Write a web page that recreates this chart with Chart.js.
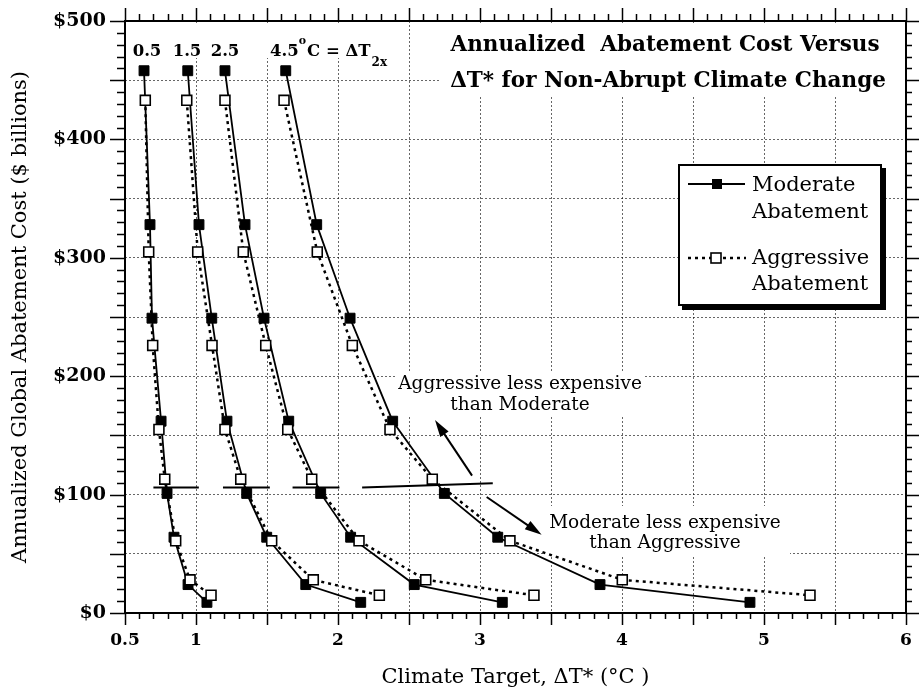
<!DOCTYPE html>
<html>
<head>
<meta charset="utf-8">
<script src="https://cdn.jsdelivr.net/npm/chart.js@4"></script>
<style>
  html, body { margin: 0; padding: 0; background: #fff; }
</style>
</head>
<body>
<canvas id="myChart" width="919" height="693"></canvas>
<script>
// annual cost levels ($ billions), same scenarios for every sensitivity
const costModerate = [458, 328, 249, 162, 101, 64, 24, 9];
const costAggressive = [433, 305, 226, 155, 113, 61, 28, 15];

// climate target dT* (degC) reached, one pair per sensitivity dT2x
const modT05 = [0.634, 0.676, 0.690, 0.754, 0.796, 0.845, 0.944, 1.077];
const aggT05 = [0.643, 0.667, 0.695, 0.739, 0.780, 0.857, 0.958, 1.106];
const modT15 = [0.942, 1.021, 1.111, 1.218, 1.357, 1.498, 1.773, 2.160];
const aggT15 = [0.935, 1.012, 1.113, 1.204, 1.315, 1.533, 1.826, 2.291];
const modT25 = [1.204, 1.345, 1.479, 1.653, 1.878, 2.089, 2.537, 3.157];
const aggT25 = [1.204, 1.333, 1.491, 1.646, 1.815, 2.148, 2.618, 3.380];
const modT45 = [1.632, 1.850, 2.085, 2.385, 2.749, 3.125, 3.845, 4.901];
const aggT45 = [1.620, 1.854, 2.101, 2.366, 2.664, 3.211, 4.002, 5.324];

// crossover bars
const crossT05 = [0.70, 1.02];
const crossT15 = [1.19, 1.52];
const crossT25 = [1.68, 2.01];
const crossT45 = [2.17, 3.09];
const crossCost = [106, 106];
const crossCost45 = [106, 109.5];

// arrows, [from, to] as [dT*, cost]
const arrowUp = [[2.944, 116], [2.683, 163]];
const arrowDown = [[3.047, 98], [3.434, 66]];

const xLabelled = [0.5, 1, 2, 3, 4, 5, 6];
const yLabelled = [0, 100, 200, 300, 400, 500];

const FONT = '"DejaVu Serif", serif';
Chart.defaults.font.family = FONT;
Chart.defaults.color = '#000';

function pts(xs, ys){
    return xs.map((x, i) => ({x: x, y: ys[i]}));
}

const datasets = [];
[[modT05, aggT05], [modT15, aggT15], [modT25, aggT25], [modT45, aggT45]].forEach(pair => {
    datasets.push({
        label: 'Aggressive Abatement',
        data: pts(pair[1], costAggressive),
        showLine: true,
        borderColor: '#000',
        borderWidth: 2.5,
        borderDash: [3, 4],
        pointStyle: 'rect',
        pointRadius: 7,
        pointBackgroundColor: '#fff',
        pointBorderColor: '#000',
        pointBorderWidth: 1.6,
        order: 1
    });
    datasets.push({
        label: 'Moderate Abatement',
        data: pts(pair[0], costModerate),
        showLine: true,
        borderColor: '#000',
        borderWidth: 1.8,
        pointStyle: 'rect',
        pointRadius: 7,
        pointBackgroundColor: '#000',
        pointBorderColor: '#000',
        pointBorderWidth: 1,
        order: 2
    });
});
[[crossT05, crossCost], [crossT15, crossCost], [crossT25, crossCost], [crossT45, crossCost45]].forEach(pair => {
    datasets.push({
        label: 'crossover',
        data: pts(pair[0], pair[1]),
        showLine: true,
        borderColor: '#000',
        borderWidth: 2,
        pointRadius: 0,
        order: 0
    });
});

function drawArrow(ctx, xs, ys, seg){
    const x1 = xs.getPixelForValue(seg[0][0]), y1 = ys.getPixelForValue(seg[0][1]);
    const x2 = xs.getPixelForValue(seg[1][0]), y2 = ys.getPixelForValue(seg[1][1]);
    const a = Math.atan2(y2 - y1, x2 - x1);
    const c = Math.cos(a), s = Math.sin(a);
    ctx.beginPath();
    ctx.moveTo(x1, y1);
    ctx.lineTo(x2 - 10 * c, y2 - 10 * s);
    ctx.stroke();
    ctx.beginPath();
    ctx.moveTo(x2, y2);
    ctx.lineTo(x2 - 17 * c + 5 * s, y2 - 17 * s - 5 * c);
    ctx.lineTo(x2 - 17 * c - 5 * s, y2 - 17 * s + 5 * c);
    ctx.closePath();
    ctx.fill();
}

const decor = {
    id: 'decor',
    beforeDatasetsDraw(chart){
        const ctx = chart.ctx;
        ctx.save();
        // white patches behind the texts
        ctx.fillStyle = '#fff';
        ctx.fillRect(440, 23, 463, 74);
        ctx.fillRect(128, 23, 265, 35);
        ctx.fillRect(395, 371, 250, 44);
        ctx.fillRect(545, 506, 245, 51);
        ctx.fillRect(678, 164, 206, 144);

        ctx.fillStyle = '#000';
        ctx.textBaseline = 'alphabetic';
        ctx.textAlign = 'center';
        ctx.font = 'bold 21.5px ' + FONT;
        ctx.fillText('Annualized  Abatement Cost Versus', 665, 51);
        ctx.fillText('\u0394T* for Non-Abrupt Climate Change', 668, 87);

        ctx.font = 'bold 16.5px ' + FONT;
        ctx.fillText('0.5', 147, 56);
        ctx.fillText('1.5', 187, 56);
        ctx.fillText('2.5', 225, 56);
        ctx.textAlign = 'left';
        let x = 270;
        ctx.fillText('4.5', x, 56); x += ctx.measureText('4.5').width;
        ctx.font = 'bold 11px ' + FONT;
        ctx.fillText('o', x, 44); x += ctx.measureText('o').width + 1;
        ctx.font = 'bold 16.5px ' + FONT;
        ctx.fillText('C = \u0394T', x, 56); x += ctx.measureText('C = \u0394T').width + 1;
        ctx.font = 'bold 12px ' + FONT;
        ctx.fillText('2x', x, 66);

        ctx.textAlign = 'center';
        ctx.font = '18.5px ' + FONT;
        ctx.fillText('Aggressive less expensive', 520, 389);
        ctx.fillText('than Moderate', 520, 410);
        ctx.fillText('Moderate less expensive', 665, 528);
        ctx.fillText('than Aggressive', 665, 548);
        ctx.restore();
    },
    afterDatasetsDraw(chart){
        const {ctx, chartArea: a, scales: {x, y}} = chart;
        ctx.save();
        // frame
        ctx.strokeStyle = '#000';
        ctx.lineWidth = 2;
        ctx.strokeRect(a.left, a.top, a.right - a.left, a.bottom - a.top);
        // outside ticks on all sides
        ctx.lineWidth = 1.5;
        ctx.beginPath();
        for (let i = 5; i <= 60; i++) {
            const px = Math.round(x.getPixelForValue(i / 10)) + 0.5;
            const major = i % 5 === 0;
            ctx.moveTo(px, a.bottom); ctx.lineTo(px, a.bottom + (major ? 12 : 6));
            ctx.moveTo(px, a.top); ctx.lineTo(px, a.top - (major ? 13 : 7));
        }
        for (let v = 0; v <= 500; v += 10) {
            const py = Math.round(y.getPixelForValue(v)) + 0.5;
            const major = v % 50 === 0;
            ctx.moveTo(a.left, py); ctx.lineTo(a.left - (major ? 15 : 8), py);
            ctx.moveTo(a.right, py); ctx.lineTo(a.right + (major ? 13 : 6), py);
        }
        ctx.stroke();

        // arrows
        ctx.lineWidth = 2;
        ctx.fillStyle = '#000';
        drawArrow(ctx, x, y, arrowUp);
        drawArrow(ctx, x, y, arrowDown);

        // legend box with shadow
        ctx.fillStyle = '#000';
        ctx.fillRect(682, 168, 204, 142);
        ctx.fillStyle = '#fff';
        ctx.fillRect(678, 164, 204, 142);
        ctx.lineWidth = 2;
        ctx.strokeRect(679, 165, 202, 140);

        ctx.lineWidth = 1.8;
        ctx.beginPath(); ctx.moveTo(688, 184); ctx.lineTo(745, 184); ctx.stroke();
        ctx.fillStyle = '#000';
        ctx.fillRect(712, 179, 10, 10);

        ctx.lineWidth = 2.5;
        ctx.setLineDash([3, 4]);
        ctx.beginPath(); ctx.moveTo(688, 258); ctx.lineTo(746, 258); ctx.stroke();
        ctx.setLineDash([]);
        ctx.fillStyle = '#fff';
        ctx.fillRect(711, 253, 10, 10);
        ctx.lineWidth = 1.6;
        ctx.strokeRect(711, 253, 10, 10);

        ctx.fillStyle = '#000';
        ctx.font = '21px ' + FONT;
        ctx.textAlign = 'left';
        ctx.textBaseline = 'alphabetic';
        ctx.fillText('Moderate', 752, 191);
        ctx.fillText('Abatement', 752, 218);
        ctx.fillText('Aggressive', 752, 264);
        ctx.fillText('Abatement', 752, 290);
        ctx.restore();
    }
};

const ctx = document.getElementById('myChart');
const myChart = new Chart(ctx, {
    type: 'scatter',
    data: { datasets: datasets },
    options: {
        responsive: false,
        animation: false,
        events: [],
        layout: { padding: { left: 0, right: 13, top: 21, bottom: 0 } },
        plugins: { legend: { display: false }, tooltip: { enabled: false } },
        scales: {
            x: {
                type: 'linear',
                min: 0.5,
                max: 6,
                afterFit: s => { s.height = 80; s.paddingLeft = 0; s.paddingRight = 0; },
                ticks: {
                    stepSize: 0.5,
                    autoSkip: false,
                    maxRotation: 0,
                    padding: 17,
                    font: { size: 17, weight: 'bold' },
                    callback: v => xLabelled.includes(v) ? String(v) : ''
                },
                grid: { color: 'rgba(0,0,0,0.6)', lineWidth: 1, drawTicks: false },
                border: { display: false, dash: [2, 2] },
                title: {
                    display: true,
                    text: 'Climate Target, \u0394T* (\u00B0C )',
                    font: { size: 21 },
                    padding: { top: 0, bottom: 3 }
                }
            },
            y: {
                min: 0,
                max: 500,
                afterFit: s => { s.width = 125; s.paddingTop = 0; s.paddingBottom = 0; },
                ticks: {
                    stepSize: 50,
                    padding: 19,
                    font: { size: 19, weight: 'bold' },
                    callback: v => yLabelled.includes(v) ? '$' + v : ''
                },
                grid: { color: 'rgba(0,0,0,0.6)', lineWidth: 1, drawTicks: false },
                border: { display: false, dash: [2, 2] },
                title: {
                    display: true,
                    text: 'Annualized Global Abatement Cost ($ billions)',
                    font: { size: 21 },
                    padding: { top: 8, bottom: 0 }
                }
            }
        }
    },
    plugins: [decor]
});
</script>
</body>
</html>
